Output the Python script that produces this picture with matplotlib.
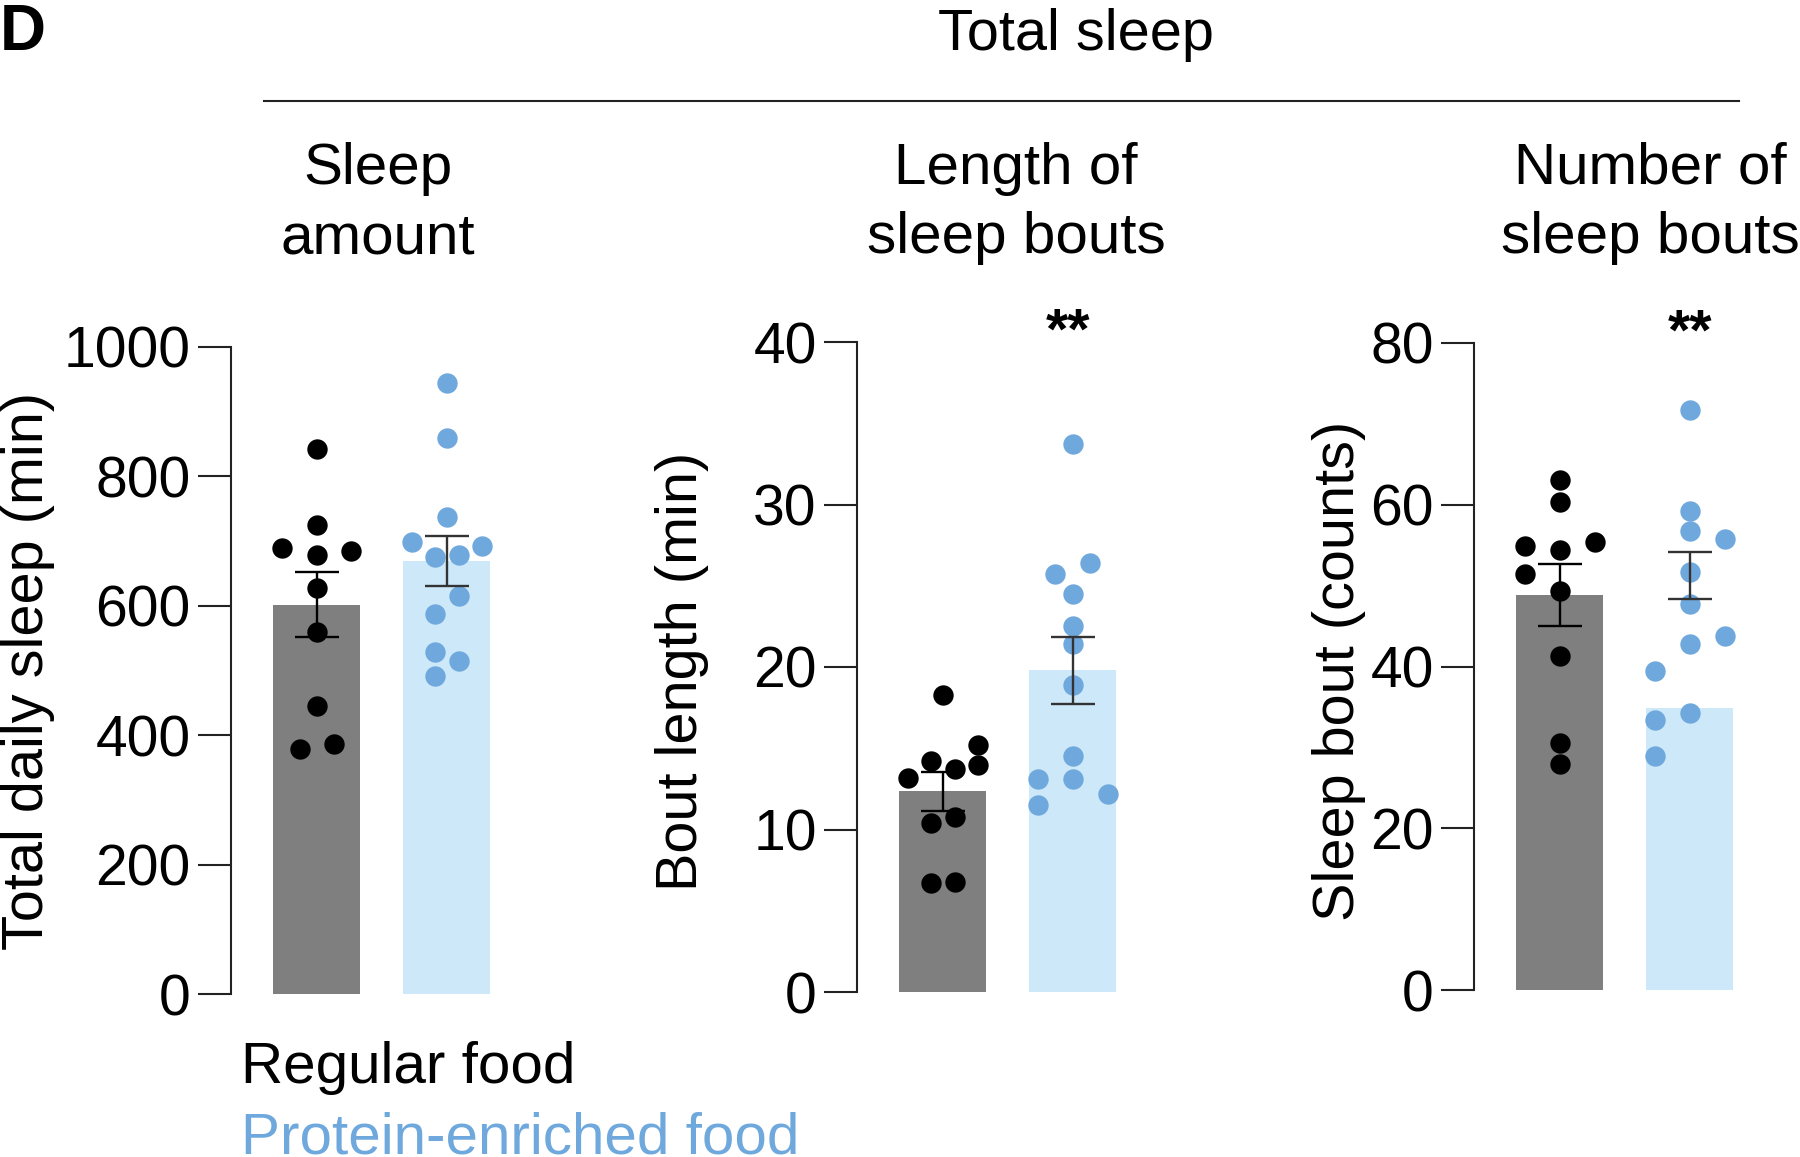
import numpy as np
import matplotlib
matplotlib.use("Agg")
from matplotlib import pyplot as plt
from matplotlib.lines import Line2D

plt.rcParams['font.family'] = ['Liberation Sans', 'DejaVu Sans']

W, H = 1800, 1157

groups = ["Regular food", "Protein-enriched food"]

# panel 1: sleep amount
amount_regular = [843, 725, 690, 684, 678, 628, 559, 445, 386, 378]
amount_protein = [945, 860, 738, 699, 693, 676, 679, 615, 588, 529, 514, 492]
amount_means = [602, 669]
amount_sem = [49.5, 39]

# panel 2: bout length
length_regular = [18.3, 15.2, 14.2, 14.0, 13.7, 13.2, 10.8, 10.4, 6.8, 6.7]
length_protein = [33.7, 26.4, 25.7, 24.5, 22.5, 21.4, 18.9, 14.5, 13.1, 13.1, 12.2, 11.5]
length_means = [12.35, 19.8]
length_sem = [1.2, 2.05]

# panel 3: number of bouts (bar heights and error bar centres as read)
number_regular = [63.0, 60.4, 55.4, 54.9, 54.4, 51.4, 49.3, 41.3, 30.5, 27.9]
number_protein = [71.7, 59.2, 56.8, 55.8, 51.7, 47.7, 43.8, 42.8, 39.5, 34.3, 33.4, 28.9]
number_bars = [48.8, 34.9]
number_err_mid = [48.85, 51.25]
number_sem = [3.85, 2.85]

# swarm slots for each dot (horizontal placement)
slots = {
    "amount": ([0, 0, -2, 2, 0, 0, 0, 0, 1, -1],
               [0, 0, 0, -3, 3, -1, 1, 1, -1, -1, 1, -1]),
    "length": ([0, 3, -1, 3, 1, -3, 1, -1, 1, -1],
               [0, 1, -1, 0, 0, 0, 0, 0, 0, -2, 2, -2]),
    "number": ([0, 0, 1, -1, 0, -1, 0, 0, 0, 0],
               [0, 0, 0, 1, 0, 0, 1, 0, -1, 0, -1, -1]),
}
slot_step = {"amount": (0.133, 0.09), "length": (0.09, 0.134), "number": (0.27, 0.27)}

BLACK = "#000000"
GREY = "#7f7f7f"
LIGHT = "#cce8f9"
BLUE = "#6fa8dc"

fig = plt.figure(figsize=(W / 100, H / 100), dpi=100)


def make_axes(spine_x, y_zero, y_top):
    left = 0.66
    right = 1.6
    step = 130
    return fig.add_axes([spine_x / W, (H - y_zero) / H,
                         (left + right) * step / W, (y_zero - y_top) / H]), (-left, right)


panels = [
    dict(key="amount", reg=amount_regular, pro=amount_protein, bars=amount_means,
         mid=amount_means, sem=amount_sem, ymax=1000, ticks=[0, 200, 400, 600, 800, 1000],
         ylabel="Total daily sleep (min)", title=["Sleep", "amount"],
         pos=(231, 994, 347), label_x=28, title_x=378, stars=None, star_x=1),
    dict(key="length", reg=length_regular, pro=length_protein, bars=length_means,
         mid=length_means, sem=length_sem, ymax=40, ticks=[0, 10, 20, 30, 40],
         ylabel="Bout length (min)", title=["Length of", "sleep bouts"],
         pos=(857, 992, 342), label_x=682, title_x=1016, stars=39.6, star_x=0.96),
    dict(key="number", reg=number_regular, pro=number_protein, bars=number_bars,
         mid=number_err_mid, sem=number_sem, ymax=80, ticks=[0, 20, 40, 60, 80],
         ylabel="Sleep bout (counts)", title=["Number of", "sleep bouts"],
         pos=(1474, 990, 343), label_x=1339, title_x=1650, stars=79.2, star_x=1.0),
]

for p in panels:
    ax, xl = make_axes(*p["pos"])
    ax.set_xlim(*xl)
    ax.set_ylim(0, p["ymax"])
    ax.bar([0, 1], p["bars"], width=0.67, color=[GREY, LIGHT], zorder=1)

    s_reg, s_pro = slots[p["key"]]
    st_reg, st_pro = slot_step[p["key"]]
    ax.scatter(np.array(s_reg) * st_reg, p["reg"], s=215, color=BLACK,
               linewidths=0, zorder=3, clip_on=False)
    ax.scatter(1 + np.array(s_pro) * st_pro, p["pro"], s=215, color=BLUE,
               linewidths=0, zorder=3, clip_on=False)

    ax.errorbar([0], [p["mid"][0]], yerr=[p["sem"][0]], fmt="none", ecolor=BLACK,
                elinewidth=1.7, capsize=16, capthick=1.7, zorder=4)
    ax.errorbar([1], [p["mid"][1]], yerr=[p["sem"][1]], fmt="none", ecolor="#333333",
                elinewidth=1.7, capsize=16, capthick=1.7, zorder=4)

    for side in ["top", "right", "bottom"]:
        ax.spines[side].set_visible(False)
    ax.spines["left"].set_linewidth(1.5)
    ax.spines["left"].set_color("#222222")
    ax.set_xticks([])
    ax.set_yticks(p["ticks"])
    ax.tick_params(axis="y", direction="out", length=24, width=1.5, pad=5,
                   labelsize=41, color="#222222")
    ax.patch.set_visible(False)

    if p["stars"] is not None:
        ax.text(p["star_x"], p["stars"], "**", ha="center", va="baseline", fontsize=41,
                fontweight="bold", clip_on=False)

    fig.text(p["label_x"] / W, 1 - 671 / H, p["ylabel"], rotation=90,
             ha="center", va="center", fontsize=41.5)

    cx = p["title_x"] / W
    fig.text(cx, 1 - 184 / H, p["title"][0], ha="center", va="baseline", fontsize=42)
    fig.text(cx, 1 - 253 / H, p["title"][1], ha="center", va="baseline", fontsize=42)

fig.text(1076 / W, 1 - 50 / H, "Total sleep", ha="center", va="baseline", fontsize=41.5)
fig.text(0 / W, 1 - 50 / H, "D", ha="left", va="baseline", fontsize=46, fontweight="bold")
fig.add_artist(Line2D([264 / W, 1739 / W], [1 - 101 / H, 1 - 101 / H],
                      color="#222222", linewidth=1.5))

fig.text(241 / W, 1 - 1083 / H, groups[0], ha="left", va="baseline", fontsize=42,
         color=BLACK)
fig.text(241 / W, 1 - 1153 / H, groups[1], ha="left", va="baseline", fontsize=42,
         color=BLUE)

fig.savefig("out.png", dpi=100)
